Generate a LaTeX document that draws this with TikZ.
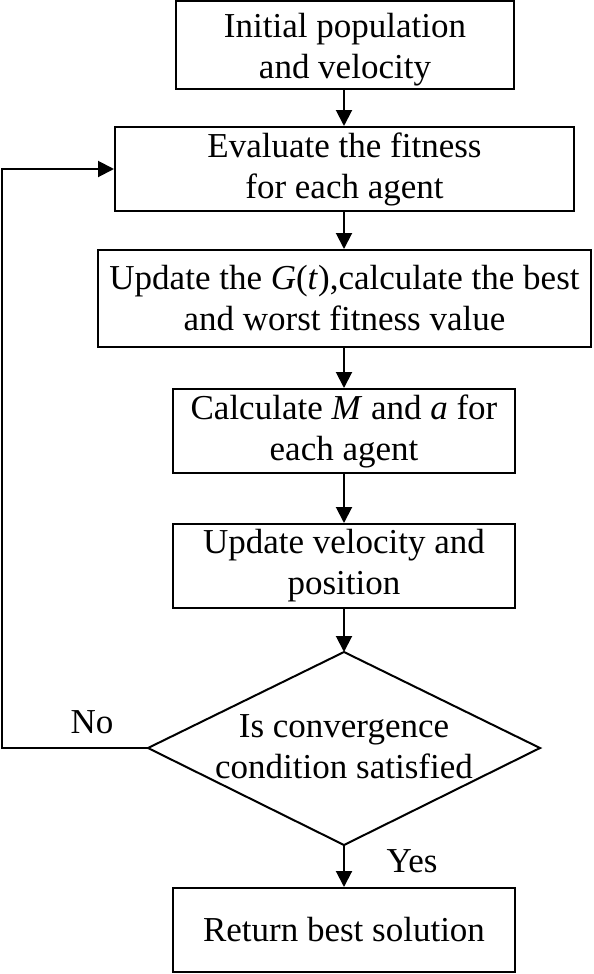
\documentclass[tikz,border=0pt]{standalone}
\usepackage{fontspec}
\setmainfont{Liberation Serif}
\usetikzlibrary{arrows.meta, calc}

\begin{document}
\begin{tikzpicture}[x=1pt, y=-1pt,
    every node/.style = {font=\fontsize{35}{41}\selectfont, align=center},
    procbox/.style = {draw, line width=2pt, rectangle, inner sep=0pt},
    flowline/.style = {line width=2pt, -{Triangle[length=16pt,width=16pt]}},
  ]
  \useasboundingbox (0,0) rectangle (594,974);
  % process boxes
  \node[procbox, minimum width=338pt, minimum height=88pt] (init) at (345,45) {};
  \node (inittext) at (345,50) {Initial population\\and velocity};
  \node[procbox, minimum width=459pt, minimum height=84pt] (evalfit) at (344.5,169)
    {Evaluate the fitness\\for each agent};
  \node[procbox, minimum width=493pt, minimum height=97pt] (updateG) at (344.5,298.5)
    {Update the \textit{G}(\textit{t}),calculate the best\\and worst fitness value};
  \node[procbox, minimum width=342pt, minimum height=84pt] (calcMa) at (344,431)
    {Calculate \textit{M} and \textit{a} for\\each agent};
  \node[procbox, minimum width=342pt, minimum height=84pt] (updatevel) at (344,566)
    {Update velocity and\\position};
  % decision
  \coordinate (dtop) at (344,652);
  \coordinate (dleft) at (148,748);
  \coordinate (dright) at (540,748);
  \coordinate (dbottom) at (344,845);
  \draw[line width=2pt, line join=miter] (dtop) -- (dright) -- (dbottom) -- (dleft) -- cycle;
  \node (converge) at (344,747) {Is convergence\\condition satisfied};
  \node[procbox, minimum width=342pt, minimum height=84pt] (result) at (344,930)
    {Return best solution};
  % labels
  \node (nolabel) at (92,722) {No};
  \node (yeslabel) at (412,861) {Yes};
  % connectors
  \coordinate (loopcorner) at (2,169);
  \draw[flowline] (init.south -| dtop) -- (evalfit.north -| dtop);
  \draw[flowline] (evalfit.south -| dtop) -- (updateG.north -| dtop);
  \draw[flowline] (updateG.south -| dtop) -- (calcMa.north -| dtop);
  \draw[flowline] (calcMa.south) -- (updatevel.north);
  \draw[flowline] (updatevel.south) -- (dtop);
  \draw[flowline] (dbottom) -- (result.north);
  \draw[flowline] (dleft) -| (loopcorner) -- (evalfit.west);
\end{tikzpicture}
\end{document}
